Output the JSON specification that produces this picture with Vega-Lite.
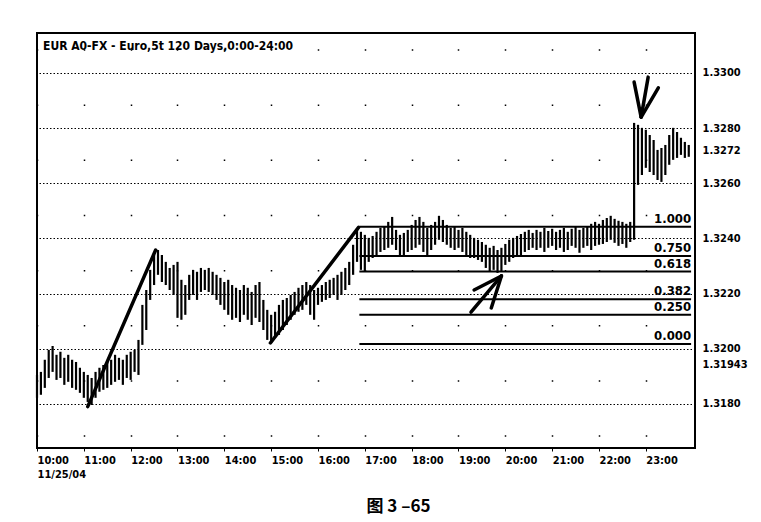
{
"$schema": "https://vega.github.io/schema/vega-lite/v6.json",
"width": 658,
"height": 415,
"padding": {"left": 35, "top": 33, "right": 0, "bottom": 14},
"autosize": {"type": "pad"},
"background": "white",
"config": {"view": {"stroke": "black", "strokeWidth": 2}, "font": "DejaVu Sans Condensed"},
"title": {"text": "EUR A0-FX - Euro,5t 120 Days,0:00-24:00", "anchor": "start", "frame": "group", "offset": -20, "dx": 6, "fontSize": 12, "fontWeight": "bold", "font": "DejaVu Sans Condensed", "color": "black"},
"datasets": {
"bars": [
{"t":"2004-11-25 10:00","h":1.31905,"l":1.31822},
{"t":"2004-11-25 10:05","h":1.31916,"l":1.31833},
{"t":"2004-11-25 10:10","h":1.31960,"l":1.31858},
{"t":"2004-11-25 10:15","h":1.31996,"l":1.31894},
{"t":"2004-11-25 10:20","h":1.32010,"l":1.31916},
{"t":"2004-11-25 10:25","h":1.31978,"l":1.31887},
{"t":"2004-11-25 10:30","h":1.31989,"l":1.31894},
{"t":"2004-11-25 10:35","h":1.31967,"l":1.31869},
{"t":"2004-11-25 10:40","h":1.31978,"l":1.31880},
{"t":"2004-11-25 10:45","h":1.31960,"l":1.31858},
{"t":"2004-11-25 10:50","h":1.31952,"l":1.31851},
{"t":"2004-11-25 10:55","h":1.31931,"l":1.31840},
{"t":"2004-11-25 11:00","h":1.31916,"l":1.31822},
{"t":"2004-11-25 11:05","h":1.31905,"l":1.31807},
{"t":"2004-11-25 11:10","h":1.31894,"l":1.31796},
{"t":"2004-11-25 11:15","h":1.31916,"l":1.31822},
{"t":"2004-11-25 11:20","h":1.31931,"l":1.31844},
{"t":"2004-11-25 11:25","h":1.31941,"l":1.31851},
{"t":"2004-11-25 11:30","h":1.31952,"l":1.31858},
{"t":"2004-11-25 11:35","h":1.31960,"l":1.31869},
{"t":"2004-11-25 11:40","h":1.31978,"l":1.31880},
{"t":"2004-11-25 11:45","h":1.31967,"l":1.31887},
{"t":"2004-11-25 11:50","h":1.31960,"l":1.31869},
{"t":"2004-11-25 11:55","h":1.31978,"l":1.31894},
{"t":"2004-11-25 12:00","h":1.31989,"l":1.31887},
{"t":"2004-11-25 12:05","h":1.31996,"l":1.31916},
{"t":"2004-11-25 12:10","h":1.32032,"l":1.31905},
{"t":"2004-11-25 12:15","h":1.32159,"l":1.32014},
{"t":"2004-11-25 12:20","h":1.32213,"l":1.32068},
{"t":"2004-11-25 12:25","h":1.32286,"l":1.32177},
{"t":"2004-11-25 12:30","h":1.32340,"l":1.32231},
{"t":"2004-11-25 12:35","h":1.32358,"l":1.32268},
{"t":"2004-11-25 12:40","h":1.32340,"l":1.32242},
{"t":"2004-11-25 12:45","h":1.32315,"l":1.32231},
{"t":"2004-11-25 12:50","h":1.32293,"l":1.32213},
{"t":"2004-11-25 12:55","h":1.32304,"l":1.32195},
{"t":"2004-11-25 13:00","h":1.32315,"l":1.32112},
{"t":"2004-11-25 13:05","h":1.32250,"l":1.32105},
{"t":"2004-11-25 13:10","h":1.32231,"l":1.32123},
{"t":"2004-11-25 13:15","h":1.32268,"l":1.32177},
{"t":"2004-11-25 13:20","h":1.32286,"l":1.32195},
{"t":"2004-11-25 13:25","h":1.32279,"l":1.32177},
{"t":"2004-11-25 13:30","h":1.32293,"l":1.32206},
{"t":"2004-11-25 13:35","h":1.32286,"l":1.32213},
{"t":"2004-11-25 13:40","h":1.32293,"l":1.32206},
{"t":"2004-11-25 13:45","h":1.32279,"l":1.32195},
{"t":"2004-11-25 13:50","h":1.32268,"l":1.32177},
{"t":"2004-11-25 13:55","h":1.32257,"l":1.32159},
{"t":"2004-11-25 14:00","h":1.32242,"l":1.32141},
{"t":"2004-11-25 14:05","h":1.32250,"l":1.32123},
{"t":"2004-11-25 14:10","h":1.32231,"l":1.32105},
{"t":"2004-11-25 14:15","h":1.32221,"l":1.32112},
{"t":"2004-11-25 14:20","h":1.32213,"l":1.32097},
{"t":"2004-11-25 14:25","h":1.32231,"l":1.32123},
{"t":"2004-11-25 14:30","h":1.32221,"l":1.32105},
{"t":"2004-11-25 14:35","h":1.32206,"l":1.32086},
{"t":"2004-11-25 14:40","h":1.32231,"l":1.32112},
{"t":"2004-11-25 14:45","h":1.32242,"l":1.32097},
{"t":"2004-11-25 14:50","h":1.32177,"l":1.32068},
{"t":"2004-11-25 14:55","h":1.32141,"l":1.32032},
{"t":"2004-11-25 15:00","h":1.32123,"l":1.32021},
{"t":"2004-11-25 15:05","h":1.32134,"l":1.32039},
{"t":"2004-11-25 15:10","h":1.32159,"l":1.32050},
{"t":"2004-11-25 15:15","h":1.32177,"l":1.32068},
{"t":"2004-11-25 15:20","h":1.32184,"l":1.32086},
{"t":"2004-11-25 15:25","h":1.32195,"l":1.32105},
{"t":"2004-11-25 15:30","h":1.32206,"l":1.32123},
{"t":"2004-11-25 15:35","h":1.32221,"l":1.32134},
{"t":"2004-11-25 15:40","h":1.32231,"l":1.32141},
{"t":"2004-11-25 15:45","h":1.32242,"l":1.32159},
{"t":"2004-11-25 15:50","h":1.32231,"l":1.32123},
{"t":"2004-11-25 15:55","h":1.32213,"l":1.32105},
{"t":"2004-11-25 16:00","h":1.32221,"l":1.32159},
{"t":"2004-11-25 16:05","h":1.32231,"l":1.32170},
{"t":"2004-11-25 16:10","h":1.32242,"l":1.32177},
{"t":"2004-11-25 16:15","h":1.32250,"l":1.32184},
{"t":"2004-11-25 16:20","h":1.32257,"l":1.32195},
{"t":"2004-11-25 16:25","h":1.32268,"l":1.32177},
{"t":"2004-11-25 16:30","h":1.32279,"l":1.32195},
{"t":"2004-11-25 16:35","h":1.32293,"l":1.32213},
{"t":"2004-11-25 16:40","h":1.32315,"l":1.32231},
{"t":"2004-11-25 16:45","h":1.32377,"l":1.32268},
{"t":"2004-11-25 16:50","h":1.32438,"l":1.32315},
{"t":"2004-11-25 16:55","h":1.32424,"l":1.32286},
{"t":"2004-11-25 17:00","h":1.32413,"l":1.32279},
{"t":"2004-11-25 17:05","h":1.32402,"l":1.32315},
{"t":"2004-11-25 17:10","h":1.32409,"l":1.32329},
{"t":"2004-11-25 17:15","h":1.32424,"l":1.32340},
{"t":"2004-11-25 17:20","h":1.32438,"l":1.32351},
{"t":"2004-11-25 17:25","h":1.32445,"l":1.32358},
{"t":"2004-11-25 17:30","h":1.32460,"l":1.32366},
{"t":"2004-11-25 17:35","h":1.32478,"l":1.32377},
{"t":"2004-11-25 17:40","h":1.32431,"l":1.32358},
{"t":"2004-11-25 17:45","h":1.32413,"l":1.32340},
{"t":"2004-11-25 17:50","h":1.32420,"l":1.32340},
{"t":"2004-11-25 17:55","h":1.32431,"l":1.32351},
{"t":"2004-11-25 18:00","h":1.32449,"l":1.32358},
{"t":"2004-11-25 18:05","h":1.32467,"l":1.32366},
{"t":"2004-11-25 18:10","h":1.32478,"l":1.32377},
{"t":"2004-11-25 18:15","h":1.32460,"l":1.32351},
{"t":"2004-11-25 18:20","h":1.32438,"l":1.32340},
{"t":"2004-11-25 18:25","h":1.32449,"l":1.32358},
{"t":"2004-11-25 18:30","h":1.32460,"l":1.32377},
{"t":"2004-11-25 18:35","h":1.32482,"l":1.32395},
{"t":"2004-11-25 18:40","h":1.32467,"l":1.32387},
{"t":"2004-11-25 18:45","h":1.32449,"l":1.32377},
{"t":"2004-11-25 18:50","h":1.32438,"l":1.32366},
{"t":"2004-11-25 18:55","h":1.32445,"l":1.32358},
{"t":"2004-11-25 19:00","h":1.32431,"l":1.32366},
{"t":"2004-11-25 19:05","h":1.32438,"l":1.32351},
{"t":"2004-11-25 19:10","h":1.32424,"l":1.32340},
{"t":"2004-11-25 19:15","h":1.32413,"l":1.32329},
{"t":"2004-11-25 19:20","h":1.32402,"l":1.32329},
{"t":"2004-11-25 19:25","h":1.32395,"l":1.32322},
{"t":"2004-11-25 19:30","h":1.32387,"l":1.32315},
{"t":"2004-11-25 19:35","h":1.32377,"l":1.32293},
{"t":"2004-11-25 19:40","h":1.32366,"l":1.32279},
{"t":"2004-11-25 19:45","h":1.32373,"l":1.32286},
{"t":"2004-11-25 19:50","h":1.32358,"l":1.32275},
{"t":"2004-11-25 19:55","h":1.32366,"l":1.32279},
{"t":"2004-11-25 20:00","h":1.32380,"l":1.32304},
{"t":"2004-11-25 20:05","h":1.32395,"l":1.32315},
{"t":"2004-11-25 20:10","h":1.32402,"l":1.32329},
{"t":"2004-11-25 20:15","h":1.32409,"l":1.32337},
{"t":"2004-11-25 20:20","h":1.32416,"l":1.32340},
{"t":"2004-11-25 20:25","h":1.32424,"l":1.32351},
{"t":"2004-11-25 20:30","h":1.32431,"l":1.32358},
{"t":"2004-11-25 20:35","h":1.32420,"l":1.32366},
{"t":"2004-11-25 20:40","h":1.32431,"l":1.32358},
{"t":"2004-11-25 20:45","h":1.32424,"l":1.32366},
{"t":"2004-11-25 20:50","h":1.32438,"l":1.32351},
{"t":"2004-11-25 20:55","h":1.32427,"l":1.32366},
{"t":"2004-11-25 21:00","h":1.32435,"l":1.32373},
{"t":"2004-11-25 21:05","h":1.32424,"l":1.32358},
{"t":"2004-11-25 21:10","h":1.32431,"l":1.32366},
{"t":"2004-11-25 21:15","h":1.32438,"l":1.32351},
{"t":"2004-11-25 21:20","h":1.32424,"l":1.32358},
{"t":"2004-11-25 21:25","h":1.32435,"l":1.32373},
{"t":"2004-11-25 21:30","h":1.32442,"l":1.32366},
{"t":"2004-11-25 21:35","h":1.32431,"l":1.32348},
{"t":"2004-11-25 21:40","h":1.32438,"l":1.32366},
{"t":"2004-11-25 21:45","h":1.32445,"l":1.32373},
{"t":"2004-11-25 21:50","h":1.32453,"l":1.32358},
{"t":"2004-11-25 21:55","h":1.32460,"l":1.32373},
{"t":"2004-11-25 22:00","h":1.32453,"l":1.32377},
{"t":"2004-11-25 22:05","h":1.32467,"l":1.32380},
{"t":"2004-11-25 22:10","h":1.32474,"l":1.32387},
{"t":"2004-11-25 22:15","h":1.32482,"l":1.32395},
{"t":"2004-11-25 22:20","h":1.32471,"l":1.32384},
{"t":"2004-11-25 22:25","h":1.32464,"l":1.32373},
{"t":"2004-11-25 22:30","h":1.32460,"l":1.32380},
{"t":"2004-11-25 22:35","h":1.32453,"l":1.32366},
{"t":"2004-11-25 22:40","h":1.32460,"l":1.32387},
{"t":"2004-11-25 22:45","h":1.32819,"l":1.32395},
{"t":"2004-11-25 22:50","h":1.32812,"l":1.32594},
{"t":"2004-11-25 22:55","h":1.32801,"l":1.32630},
{"t":"2004-11-25 23:00","h":1.32794,"l":1.32656},
{"t":"2004-11-25 23:05","h":1.32775,"l":1.32641},
{"t":"2004-11-25 23:10","h":1.32757,"l":1.32630},
{"t":"2004-11-25 23:15","h":1.32721,"l":1.32612},
{"t":"2004-11-25 23:20","h":1.32728,"l":1.32605},
{"t":"2004-11-25 23:25","h":1.32739,"l":1.32630},
{"t":"2004-11-25 23:30","h":1.32775,"l":1.32667},
{"t":"2004-11-25 23:35","h":1.32801,"l":1.32685},
{"t":"2004-11-25 23:40","h":1.32786,"l":1.32692},
{"t":"2004-11-25 23:45","h":1.32765,"l":1.32703},
{"t":"2004-11-25 23:50","h":1.32750,"l":1.32692},
{"t":"2004-11-25 23:55","h":1.32739,"l":1.32696}
],
"fib": [
{"r":"1.000","p":1.32442},
{"r":"0.750","p":1.32336},
{"r":"0.618","p":1.32280},
{"r":"0.382","p":1.32179},
{"r":"0.250","p":1.32123},
{"r":"0.000","p":1.32017}
],
"strokes": [
{"seg":"t1","t":"2004-11-25 11:05","p":1.31790},
{"seg":"t1","t":"2004-11-25 12:32","p":1.32358},
{"seg":"t2","t":"2004-11-25 14:59","p":1.32021},
{"seg":"t2","t":"2004-11-25 16:52","p":1.32440},
{"seg":"a1a","t":"2004-11-25 19:16","p":1.32133},
{"seg":"a1a","t":"2004-11-25 19:55","p":1.32264},
{"seg":"a1b","t":"2004-11-25 19:20","p":1.32213},
{"seg":"a1b","t":"2004-11-25 19:55","p":1.32264},
{"seg":"a1c","t":"2004-11-25 19:42","p":1.32148},
{"seg":"a1c","t":"2004-11-25 19:55","p":1.32264},
{"seg":"a2a","t":"2004-11-25 22:45","p":1.32967},
{"seg":"a2a","t":"2004-11-25 22:54","p":1.32840},
{"seg":"a2b","t":"2004-11-25 23:03","p":1.32985},
{"seg":"a2b","t":"2004-11-25 22:54","p":1.32840},
{"seg":"a2c","t":"2004-11-25 23:16","p":1.32946},
{"seg":"a2c","t":"2004-11-25 22:54","p":1.32840}
]
},
"layer": [
{
"data": {"name": "bars"},
"mark": {"type": "rule", "strokeWidth": 2.2, "color": "black"},
"encoding": {
"x": {"field": "t", "type": "temporal",
 "scale": {"domain": [{"year":2004,"month":11,"date":25,"hours":10,"minutes":0},{"year":2004,"month":11,"date":26,"hours":0,"minutes":3}]},
 "axis": {
  "values": [
   {"year":2004,"month":11,"date":25,"hours":10},{"year":2004,"month":11,"date":25,"hours":11},{"year":2004,"month":11,"date":25,"hours":12},{"year":2004,"month":11,"date":25,"hours":13},{"year":2004,"month":11,"date":25,"hours":14},{"year":2004,"month":11,"date":25,"hours":15},{"year":2004,"month":11,"date":25,"hours":16},{"year":2004,"month":11,"date":25,"hours":17},{"year":2004,"month":11,"date":25,"hours":18},{"year":2004,"month":11,"date":25,"hours":19},{"year":2004,"month":11,"date":25,"hours":20},{"year":2004,"month":11,"date":25,"hours":21},{"year":2004,"month":11,"date":25,"hours":22},{"year":2004,"month":11,"date":25,"hours":23}
  ],
  "labelExpr": "hours(datum.value) == 10 ? [timeFormat(datum.value, '%H:%M'), '11/25/04'] : timeFormat(datum.value, '%H:%M')",
  "labelAlign": "left", "labelFlush": false, "labelOverlap": false, "labelBound": false,
  "labelFont": "DejaVu Sans Condensed", "labelFontSize": 11, "labelFontWeight": "bold", "labelColor": "black",
  "labelPadding": 3, "labelLineHeight": 14,
  "domain": false, "ticks": true, "tickSize": 3, "tickColor": "black",
  "grid": true, "gridColor": "black", "gridWidth": 1.5, "gridDash": [1.5, 53.65], "gridDashOffset": 39.36,
  "title": "图 3 –65", "titleFont": "Noto Sans CJK SC", "titleFontSize": 17, "titleFontWeight": "bold", "titleColor": "black",
  "titleX": 361, "titleY": 63, "titleAlign": "center", "titleBaseline": "alphabetic"
 }
},
"y": {"field": "l", "type": "quantitative",
 "scale": {"domain": [1.3164, 1.33145], "zero": false, "nice": false},
 "axis": {
  "orient": "right", "title": null,
  "values": [1.318, 1.31943, 1.32, 1.322, 1.324, 1.326, 1.3272, 1.328, 1.33],
  "labelExpr": "abs(datum.value - 1.31943) < 0.000001 ? '1.31943' : format(datum.value, '.4f')",
  "labelFont": "DejaVu Sans Condensed", "labelFontSize": 11, "labelFontWeight": "bold", "labelColor": "black",
  "labelPadding": 7, "labelOverlap": false, "labelBound": false, "labelFlush": false,
  "domain": false, "ticks": false,
  "grid": true, "gridColor": "black", "gridWidth": 1.2, "gridDash": [1.5, 2],
  "gridOpacity": {"condition": {"test": "abs(datum.value - 1.3272) < 0.000001 || abs(datum.value - 1.31943) < 0.000001", "value": 0}, "value": 1}
 }
},
"y2": {"field": "h"}
}
},
{
"data": {"name": "fib"},
"mark": {"type": "rule", "strokeWidth": 2, "color": "black"},
"encoding": {
"x": {"datum": {"year":2004,"month":11,"date":25,"hours":16,"minutes":53}, "type": "temporal"},
"x2": {"datum": {"year":2004,"month":11,"date":25,"hours":23,"minutes":58}},
"y": {"field": "p", "type": "quantitative"}
}
},
{
"data": {"name": "fib"},
"mark": {"type": "text", "align": "right", "baseline": "alphabetic", "dy": -4, "fontWeight": "bold", "fontSize": 13, "font": "DejaVu Sans Condensed", "color": "black"},
"encoding": {
"x": {"datum": {"year":2004,"month":11,"date":25,"hours":23,"minutes":58}, "type": "temporal"},
"y": {"field": "p", "type": "quantitative"},
"text": {"field": "r"}
}
},
{
"data": {"name": "strokes"},
"mark": {"type": "line", "strokeWidth": 3.5, "color": "black", "strokeCap": "round"},
"encoding": {
"x": {"field": "t", "type": "temporal"},
"y": {"field": "p", "type": "quantitative"},
"detail": {"field": "seg"}
}
}
]
}
